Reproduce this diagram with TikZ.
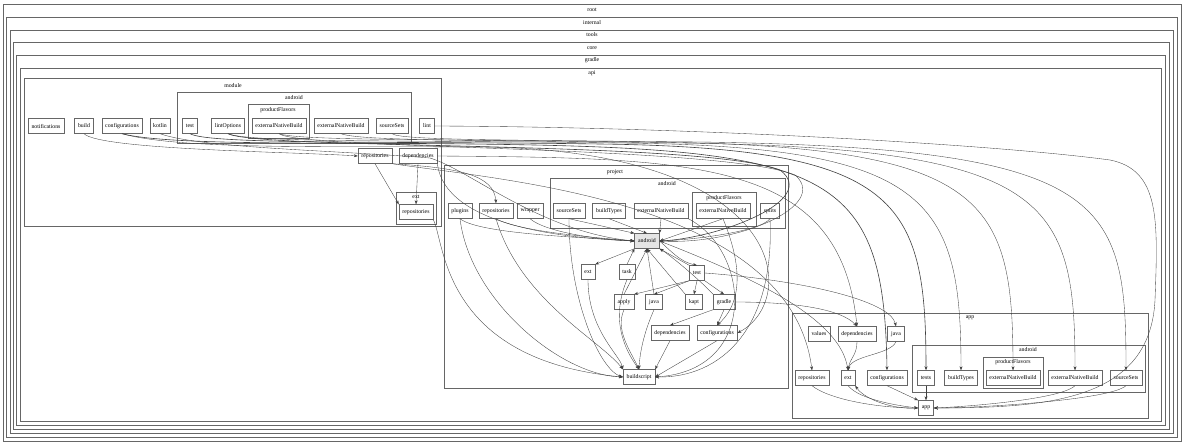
\documentclass[tikz,border=0pt]{standalone}
\usepackage{fontspec}
\setmainfont{Liberation Serif}
\usetikzlibrary{arrows.meta}

\begin{document}
\begin{tikzpicture}[x=1pt, y=-1pt,
  cnode/.style={rectangle, draw=black!60, fill=white, font=\fontsize{5.8}{6.5}\selectfont, inner xsep=3.5pt, inner ysep=0pt, minimum height=15pt},
  cluster/.style={draw=black!60, line width=0.4pt},
  clabel/.style={font=\fontsize{5.8}{6.5}\selectfont, inner sep=0pt},
  dep/.style={->, >={Stealth[length=4pt,width=3pt]}, draw=black!75, line width=0.35pt}]
	\useasboundingbox (0,0) rectangle (1184,444);
	% nested outer clusters
	\draw[cluster] (3,4) rectangle (1181,441);
	\node[clabel] (lRoot) at (592,10) {root};
	\draw[cluster] (6,17) rectangle (1177,437);
	\node[clabel] (lInternal) at (592,23) {internal};
	\draw[cluster] (10,30) rectangle (1173,433);
	\node[clabel] (lTools) at (592,35) {tools};
	\draw[cluster] (13,42) rectangle (1169,429);
	\node[clabel] (lCore) at (592,48) {core};
	\draw[cluster] (16,55) rectangle (1165,425);
	\node[clabel] (lGradle) at (592,60) {gradle};
	\draw[cluster] (20,68) rectangle (1161,421);
	\node[clabel] (lApi) at (592,73) {api};
	% left clusters
	\draw[cluster] (24,78) rectangle (441,226);
	\node[clabel] (lModule) at (233,86) {module};
	\draw[cluster] (177,92) rectangle (411,143);
	\node[clabel] (lAndroidB) at (294,98) {android};
	\draw[cluster] (248,104) rectangle (309,138);
	\node[clabel] (lFlavorsC) at (278,110) {productFlavors};
	\draw[cluster] (396,192) rectangle (436,224);
	\node[clabel] (lExtD) at (416,197) {ext};
	% middle clusters
	\draw[cluster] (444,165) rectangle (788,388);
	\node[clabel] (lProject) at (615,172) {project};
	\draw[cluster] (550,178) rectangle (785,228);
	\node[clabel] (lAndroidF) at (667,184) {android};
	\draw[cluster] (692,192) rectangle (756,226);
	\node[clabel] (lFlavorsG) at (724,198) {productFlavors};
	% right clusters
	\draw[cluster] (792,313) rectangle (1148,418);
	\node[clabel] (lApp) at (970,318) {app};
	\draw[cluster] (912,345) rectangle (1145,392);
	\node[clabel] (lAndroidI) at (1028,350) {android};
	\draw[cluster] (983,357) rectangle (1043,388);
	\node[clabel] (lFlavorsJ) at (1013,362) {productFlavors};

	% left nodes
	\node[cnode] (nNotif) at (46,126) {notifications};
	\node[cnode] (nBuild) at (84,126) {build};
	\node[cnode] (nConfA) at (122,126) {configurations};
	\node[cnode] (nKotlin) at (160,126) {kotlin};
	\node[cnode] (nTestA) at (190,126) {test};
	\node[cnode] (nLintOpt) at (228,126) {lintOptions};
	\node[cnode] (nExtNatC) at (279,126) {externalNativeBuild};
	\node[cnode] (nExtNatB) at (341,126) {externalNativeBuild};
	\node[cnode] (nSrcA) at (392,126) {sourceSets};
	\node[cnode] (nLint) at (427,126) {lint};
	\node[cnode] (nRepoA) at (375,156) {repositories};
	\node[cnode] (nDepA) at (418,156) {dependencies};
	\node[cnode] (nRepoD) at (416,212) {repositories};
	% middle nodes
	\node[cnode] (nPlugins) at (460,211) {plugins};
	\node[cnode] (nRepoE) at (496,211) {repositories};
	\node[cnode] (nWrapper) at (530,211) {wrapper};
	\node[cnode] (nSrcF) at (569,211) {sourceSets};
	\node[cnode] (nBuildTypes) at (609,211) {buildTypes};
	\node[cnode] (nExtNatF) at (661,211) {externalNativeBuild};
	\node[cnode] (nExtNatG) at (723,211) {externalNativeBuild};
	\node[cnode] (nSplits) at (770,211) {splits};
	\node[cnode, fill=black!10] (nAndroid) at (647,241) {android};
	\node[cnode] (nExtE) at (588,272) {ext};
	\node[cnode] (nTask) at (627,272) {task};
	\node[cnode] (nTestE) at (697,273) {test};
	\node[cnode] (nApply) at (624,302) {apply};
	\node[cnode] (nJava) at (654,302) {java};
	\node[cnode] (nKapt) at (694,302) {kapt};
	\node[cnode] (nGradle) at (724,302) {gradle};
	\node[cnode] (nDepE) at (670,333) {dependencies};
	\node[cnode] (nConfE) at (717,333) {configurations};
	\node[cnode] (nBuildscript) at (639,377) {buildscript};
	% right nodes
	\node[cnode] (nValues) at (819,334) {values};
	\node[cnode] (nDepH) at (857,334) {dependencies};
	\node[cnode] (nJavaH) at (896,334) {java};
	\node[cnode] (nRepoH) at (812,378) {repositories};
	\node[cnode] (nExtH) at (848,378) {ext};
	\node[cnode] (nConfH) at (887,378) {configurations};
	\node[cnode] (nTestH) at (926,378) {tests};
	\node[cnode] (nBuildTypesH) at (961,378) {buildTypes};
	\node[cnode] (nExtNatJ) at (1013,378) {externalNativeBuild};
	\node[cnode] (nExtNatI) at (1075,378) {externalNativeBuild};
	\node[cnode] (nSrcI) at (1126,378) {sourceSets};
	\node[cnode] (nApp) at (926,408) {app};

	% edges out of the left block
	\draw[dep] (nBuild.south) .. controls (100,150) and (300,152) .. (nRepoA.west);
	\draw[dep, line width=0.6pt] (nConfA.south) .. controls (170,146) and (330,142) .. (470,144) .. controls (830,148) and (884,170) .. (nConfH.north);
	\draw[dep] (nConfA.south) .. controls (180,150) and (330,146) .. (480,147) .. controls (790,150) and (800,300) .. (nConfE.east);
	\draw[dep] (nKotlin.south) .. controls (200,148) and (330,150) .. (430,158) .. controls (470,170) and (540,232) .. (nAndroid.west);
	\draw[dep, line width=0.6pt] (nTestA.south) .. controls (210,145) and (400,141) .. (600,144) .. controls (900,148) and (926,200) .. (nTestH.north);
	\draw[dep] (nLintOpt.south) .. controls (250,143) and (420,140) .. (620,143) .. controls (930,146) and (961,200) .. (nBuildTypesH.north);
	\draw[dep] (nExtNatC.south) .. controls (300,141) and (450,139) .. (650,142) .. controls (990,146) and (1013,200) .. (nExtNatJ.north);
	\draw[dep] (nExtNatB.south) .. controls (360,141) and (480,140) .. (680,143) .. controls (1050,148) and (1075,200) .. (nExtNatI.north);
	\draw[dep] (nSrcA.south) .. controls (400,140) and (500,140) .. (700,142) .. controls (1110,148) and (1126,200) .. (nSrcI.north);
	\draw[dep] (nLint.east) .. controls (700,127) and (1000,145) .. (1110,160) .. controls (1160,170) and (1158,220) .. (1155,300) .. controls (1150,400) and (1050,408) .. (nApp.east);
	\draw[dep] (nRepoA.south) -- (nRepoD.north west);
	\draw[dep] (nDepA.south) -- (nRepoD.north);
	\draw[dep] (nDepA.east) .. controls (700,158) and (840,160) .. (nDepH.north);
	\draw[dep] (nRepoA.south east) .. controls (460,168) and (494,175) .. (nRepoE.north);
	\draw[dep] (nRepoD.south east) .. controls (445,240) and (440,360) .. (nBuildscript.west);
	\draw[dep] (nDepA.south east) .. controls (445,225) and (560,238) .. (nAndroid.west);
	\draw[dep, line width=0.6pt] (nLintOpt.south) .. controls (260,150) and (700,140) .. (780,170) .. controls (820,200) and (720,238) .. (nAndroid.east);
	\draw[dep] (nExtNatC.south) .. controls (300,150) and (720,145) .. (795,175) .. controls (830,205) and (740,245) .. (nAndroid.east);
	\draw[dep] (nRepoA.south east) .. controls (500,180) and (790,200) .. (nRepoH.north);

	% edges in the middle block
	\draw[dep] (nPlugins.south) .. controls (480,235) and (600,238) .. (nAndroid.west);
	\draw[dep] (nPlugins.south) .. controls (470,300) and (560,375) .. (nBuildscript.west);
	\draw[dep] (nRepoE.south) .. controls (520,232) and (600,238) .. (nAndroid.west);
	\draw[dep] (nRepoE.south) .. controls (520,300) and (600,340) .. (nBuildscript.north west);
	\draw[dep] (nWrapper.south) .. controls (545,232) and (600,240) .. (nAndroid.west);
	\draw[dep] (nSrcF.south) -- (nAndroid.north west);
	\draw[dep] (nSrcF.south) .. controls (569,300) and (600,370) .. (nBuildscript.west);
	\draw[dep] (nBuildTypes.south) -- (nAndroid.north);
	\draw[dep] (nExtNatF.south) -- (nAndroid.north east);
	\draw[dep] (nExtNatF.south east) .. controls (750,250) and (760,370) .. (nBuildscript.east);
	\draw[dep] (nExtNatG.south) -- (nAndroid.east);
	\draw[dep] (nExtNatG.south) .. controls (740,260) and (745,300) .. (nConfE.north);
	\draw[dep] (nSplits.south) .. controls (760,232) and (690,240) .. (nAndroid.east);
	\draw[dep] (nSplits.south) .. controls (775,330) and (720,378) .. (nBuildscript.east);
	\draw[dep] (nExtE.south) .. controls (588,330) and (620,355) .. (nBuildscript.north west);
	\draw[dep] (nAndroid.south west) -- (nExtE.north east);
	\draw[dep] (nTask.north) -- (nAndroid.south west);
	\draw[dep] (nTask.south) .. controls (610,320) and (625,350) .. (nBuildscript.north);
	\draw[dep] (nTestE.north west) -- (nAndroid.south east);
	\draw[dep] (nAndroid.east) .. controls (670,250) and (680,262) .. (nTestE.north);
	\draw[dep] (nTestE.south west) -- (nApply.north east);
	\draw[dep] (nTestE.south west) -- (nJava.north);
	\draw[dep] (nTestE.south) -- (nKapt.north);
	\draw[dep] (nTestE.south east) -- (nGradle.north);
	\draw[dep] (nApply.north) -- (nAndroid.south);
	\draw[dep] (nJava.north) -- (nAndroid.south);
	\draw[dep] (nKapt.north west) -- (nAndroid.south);
	\draw[dep] (nGradle.north west) .. controls (700,280) and (670,255) .. (nAndroid.south east);
	\draw[dep] (nApply.south) .. controls (615,330) and (630,350) .. (nBuildscript.north);
	\draw[dep] (nJava.south) .. controls (645,330) and (640,350) .. (nBuildscript.north);
	\draw[dep] (nGradle.south west) -- (nDepE.north);
	\draw[dep] (nGradle.south) -- (nConfE.north);
	\draw[dep] (nDepE.south) -- (nBuildscript.north east);
	\draw[dep] (nConfE.south) -- (nBuildscript.east);
	\draw[dep] (nGradle.east) .. controls (790,302) and (840,308) .. (nDepH.north);
	\draw[dep] (nTestE.east) .. controls (800,280) and (890,300) .. (nJavaH.north);
	\draw[dep] (nAndroid.east) .. controls (760,280) and (840,320) .. (nExtH.north);

	% edges in the right block
	\draw[dep] (nRepoH.south) .. controls (830,400) and (880,408) .. (nApp.west);
	\draw[dep] (nExtH.south) .. controls (860,400) and (900,406) .. (nApp.west);
	\draw[dep] (nApp.west) .. controls (895,410) and (865,400) .. (nExtH.south east);
	\draw[dep] (nConfH.south) -- (nApp.north west);
	\draw[dep] (nTestH.south) -- (nApp.north);
	\draw[dep] (nExtNatI.south) .. controls (1060,400) and (960,407) .. (nApp.east);
	\draw[dep] (nSrcI.south) .. controls (1110,400) and (980,408) .. (nApp.east);
	\draw[dep] (nDepH.south) .. controls (857,355) and (850,358) .. (nExtH.north);
	\draw[dep] (nJavaH.south) .. controls (890,355) and (852,355) .. (nExtH.north);
\end{tikzpicture}
\end{document}
